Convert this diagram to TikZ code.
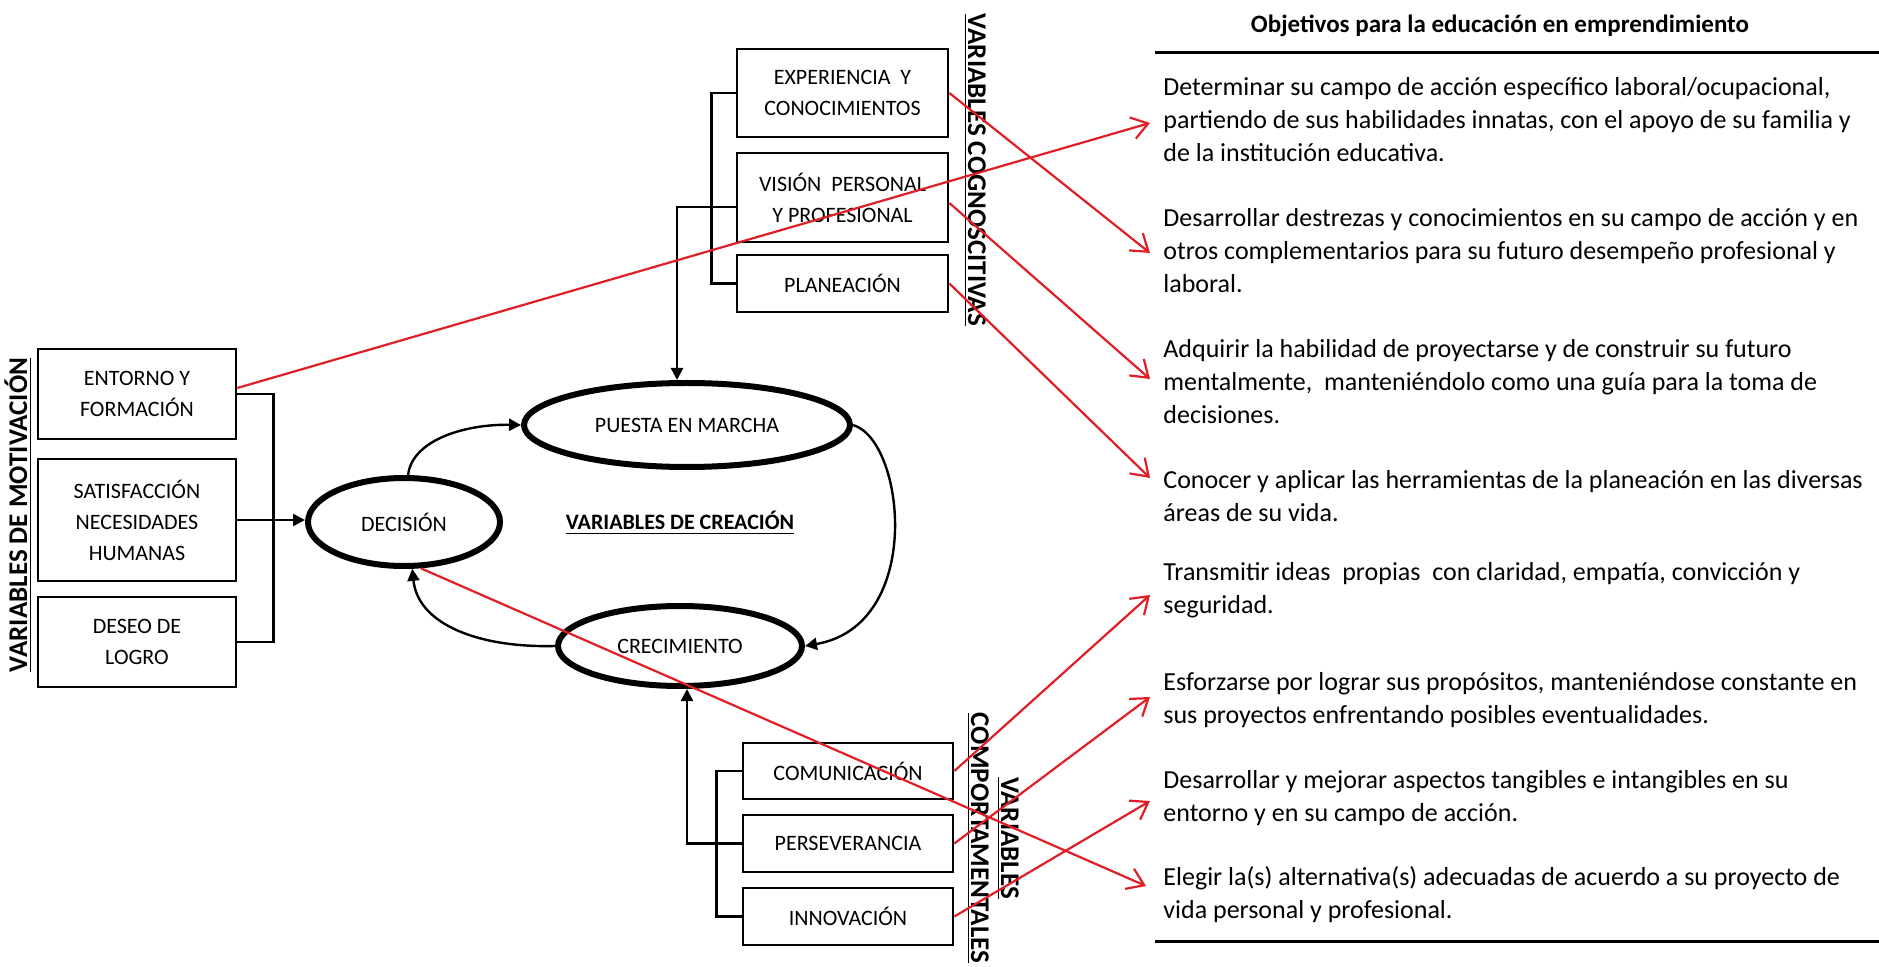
\documentclass[tikz,border=0pt]{standalone}
\usepackage{fontspec}
\setmainfont{Carlito}
\usetikzlibrary{arrows.meta,shapes.geometric}
\definecolor{redl}{RGB}{224,30,38}
\begin{document}
\begin{tikzpicture}[x=0.5pt,y=-0.5pt,
  box/.style={draw,line width=1.35pt,align=center,inner sep=0pt,font=\fontsize{11}{15.5}\selectfont},
  oval/.style={draw,ellipse,line width=3pt,inner sep=0pt,font=\fontsize{11}{13}\selectfont},
  conn/.style={line width=1.2pt},
  blkarr/.style={conn,-{Triangle[length=6pt,width=6pt]}},
  redarr/.style={draw=redl,line width=1.1pt,-{Straight Barb[length=8pt,width=11pt]}},
  para/.style={anchor=north west,align=left,inner sep=0pt,font=\fontsize{13}{16.5}\selectfont},
  vlab/.style={font=\fontsize{13.5}{15}\selectfont\bfseries,inner sep=0pt},
  rulel/.style={line width=1.5pt}
]
\useasboundingbox (0,0) rectangle (1879,967);

% motivation boxes
\node[box,minimum width=99pt,minimum height=45pt] (ent) at (137,394) {ENTORNO Y\\FORMACIÓN};
\node[box,minimum width=99pt,minimum height=61pt] (sat) at (137,520) {SATISFACCIÓN\\NECESIDADES\\HUMANAS};
\node[box,minimum width=99pt,minimum height=45pt] (des) at (137,642) {DESEO DE\\LOGRO};

% cognitive boxes
\node[box,minimum width=105.5pt,minimum height=44pt] (exp) at (842.5,93) {EXPERIENCIA~ Y\\CONOCIMIENTOS};
\node[box,minimum width=105.5pt,minimum height=44.5pt] (vis) at (842.5,197.5) {VISIÓN~ PERSONAL\\Y PROFESIONAL};
\node[box,minimum width=105.5pt,minimum height=28.5pt] (pla) at (842.5,283.5) {PLANEACIÓN};

% behavioural boxes
\node[box,minimum width=105pt,minimum height=28pt] (com) at (848,771) {COMUNICACIÓN};
\node[box,minimum width=105pt,minimum height=28.5pt] (per) at (848,843.5) {PERSEVERANCIA};
\node[box,minimum width=105pt,minimum height=28.5pt] (inn) at (848,916.5) {INNOVACIÓN};

% ellipses
\node[oval,minimum width=96pt,minimum height=44pt] (dec) at (404,522) {DECISIÓN};
\node[oval,minimum width=163pt,minimum height=42pt] (pm) at (687,425) {PUESTA EN MARCHA};
\node[oval,minimum width=122pt,minimum height=40pt] (cre) at (680,646) {CRECIMIENTO};

\node[font=\fontsize{11}{13}\selectfont\bfseries,anchor=base,inner sep=0pt] (lcre) at (680,530) {\underline{VARIABLES DE CREACIÓN}};

% vertical labels
\node[vlab,rotate=90,anchor=base] (lmot) at (27,515) {\underline{VARIABLES DE MOTIVACIÓN}};
\node[vlab,rotate=-90,anchor=base] (lcog) at (968,170) {\underline{VARIABLES COGNOSCITIVAS}};
\node[vlab,rotate=-90,align=center] (lcom) at (992,838) {\strut\underline{VARIABLES}\\\strut\underline{COMPORTAMENTALES}};

% black connectors
\draw[conn] (ent.east) -- ++(36,0) |- (des.east);
\draw[blkarr] (sat.east) -- (sat.east -| dec.west);
\draw[conn] (exp.west) -- ++(-24,0) |- (pla.west);
\draw[blkarr] ([yshift=-4.75pt]vis.west) -| ([xshift=-5pt]pm.north);
\draw[conn] (com.west) -- ++(-25,0) |- (inn.west);
\draw[blkarr] (per.west) -| ([xshift=3.5pt]cre.south);
\draw[blkarr] (dec.85) .. controls (412,440) and (465,424) .. (pm.west);
\draw[blkarr] (pm.east) .. controls (905,440) and (925,625) .. (cre.east);
\draw[blkarr] (cre.west) .. controls (480,648) and (418,625) .. (dec.-80);

% right column
\node[font=\fontsize{12.5}{15}\selectfont\bfseries,anchor=base,inner sep=0pt] (title) at (1500,33) {Objetivos para la educación en emprendimiento};
\draw[rulel] (1155,53) -- (1879,53);
\draw[rulel] (1155,941) -- (1879,941);

\node[para] (p1) at (1163,71.9) {\strut Determinar su campo de acción específico laboral/ocupacional,\\\strut partiendo de sus habilidades innatas, con el apoyo de su familia y\\\strut de la institución educativa.};
\node[para] (p2) at (1163,202.9) {\strut Desarrollar destrezas y conocimientos en su campo de acción y en\\\strut otros complementarios para su futuro desempeño profesional y\\\strut laboral.};
\node[para] (p3) at (1163,333.9) {\strut Adquirir la habilidad de proyectarse y de construir su futuro\\\strut mentalmente,~ manteniéndolo como una guía para la toma de\\\strut decisiones.};
\node[para] (p4) at (1163,464.9) {\strut Conocer y aplicar las herramientas de la planeación en las diversas\\\strut áreas de su vida.};
\node[para] (p5) at (1163,556.9) {\strut Transmitir ideas~ propias~ con claridad, empatía, convicción y\\\strut seguridad.};
\node[para] (p6) at (1163,666.9) {\strut Esforzarse por lograr sus propósitos, manteniéndose constante en\\\strut sus proyectos enfrentando posibles eventualidades.};
\node[para] (p7) at (1163,764.9) {\strut Desarrollar y mejorar aspectos tangibles e intangibles en su\\\strut entorno y en su campo de acción.};
\node[para] (p8) at (1163,861.9) {\strut Elegir la(s) alternativa(s) adecuadas de acuerdo a su proyecto de\\\strut vida personal y profesional.};

\coordinate (t1) at (1150,123);
\coordinate (t2) at (1150,253);
\coordinate (t3) at (1150,379);
\coordinate (t4) at (1150,478);
\coordinate (t5) at (1150,595);
\coordinate (t6) at (1150,697);
\coordinate (t7) at (1150,801);
\coordinate (t8) at (1146,886);

% red connectors
\draw[redarr] ([yshift=3pt]ent.east) -- (t1);
\draw[redarr] (exp.east) -- (t2);
\draw[redarr] ([yshift=-2.75pt]vis.east) -- (t3);
\draw[redarr] (pla.east) -- (t4);
\draw[redarr] (com.east) -- (t5);
\draw[redarr] (per.east) -- (t6);
\draw[redarr] (inn.east) -- (t7);
\draw[redarr] (dec.-70) -- (t8);
\end{tikzpicture}
\end{document}
